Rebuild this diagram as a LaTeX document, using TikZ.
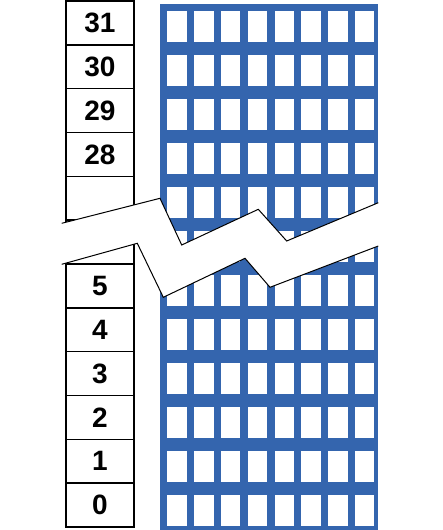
\documentclass[tikz,border=0pt]{standalone}
\usepackage{fontspec}
\setmainfont{Liberation Sans}
\definecolor{gridblue}{RGB}{52,101,174}

\begin{document}
\begin{tikzpicture}[x=1pt,y=-1pt,
  cell/.style={draw,line width=1.5pt,minimum width=68pt,minimum height=43.83pt,inner sep=0pt,font=\bfseries\fontsize{28}{28}\selectfont}]
\useasboundingbox (0,0) rectangle (443,530);
\fill[gridblue] (160,4) rectangle (378,530);
\foreach \i in {0,...,7}
  \foreach \j in {0,...,11}
    \fill[white] (167.3+26.8*\i,11+44*\j) rectangle ++(19.5,31);
\foreach \lab [count=\k from 0] in {31,30,29,28,{},{},5,4,3,2,1,0}
  \node[cell] (row\k) at (100,22.9+43.83*\k) {\lab};
\fill[white] (61.7,223.3) -- (160,198.3) -- (181.7,245) -- (258.3,209.3) -- (286.7,241) -- (379,202.5)
  -- (379,245.8) -- (270,287.3) -- (245,258.3) -- (163.3,297.3) -- (137.3,243.3) -- (61.7,264.3) -- cycle;
\draw[line width=1pt] (61.7,223.3) -- (160,198.3) -- (181.7,245) -- (258.3,209.3) -- (286.7,241) -- (378.3,202.7);
\draw[line width=1pt] (61.7,264.3) -- (137.3,243.3) -- (163.3,297.3) -- (245,258.3) -- (270,287.3) -- (378.3,246);
\end{tikzpicture}
\end{document}
